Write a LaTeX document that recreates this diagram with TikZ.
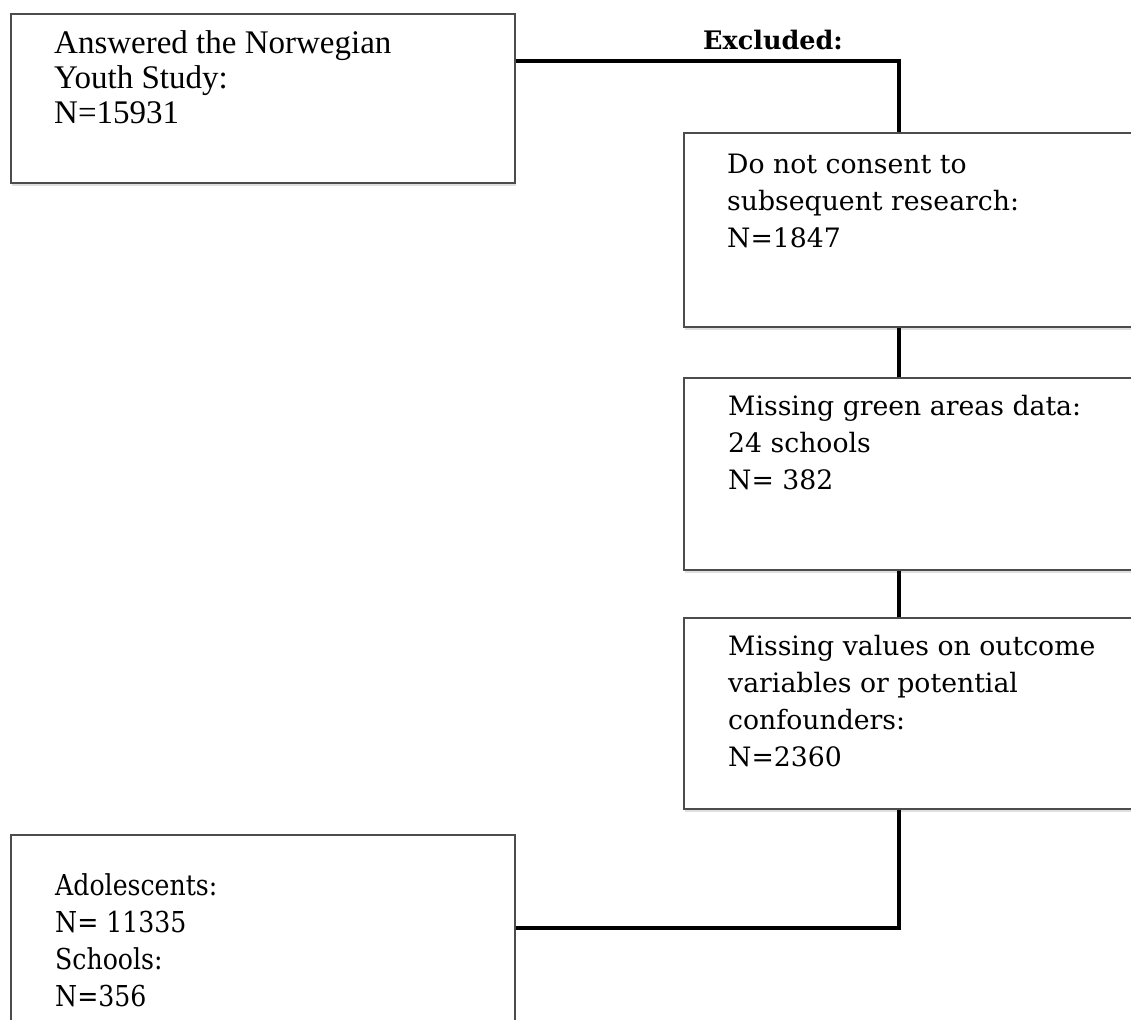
\documentclass[tikz,border=0pt]{standalone}
\usepackage{fontspec}
\setmainfont{Liberation Serif}
\newfontfamily\cambriafont{DejaVu Serif}
\newfontfamily\condfont[FakeStretch=0.875]{DejaVu Serif}
\usetikzlibrary{shadows}
\begin{document}
\begin{tikzpicture}[x=1pt,y=-1pt,
  boxstyle/.style={draw=black!70, line width=2.4pt, fill=white, inner sep=0pt,
    anchor=north west, line join=miter,
    drop shadow={shadow xshift=1pt, shadow yshift=-2.5pt, opacity=0.25}},
  conn/.style={line width=3.8pt, black, line join=miter},
  timestxt/.style={font=\fontsize{33}{35}\selectfont, align=left, inner sep=0pt, anchor=north west},
  condtxt/.style={font=\condfont\fontsize{28.8}{37}\selectfont, align=left, inner sep=0pt, anchor=north west},
  camtxt/.style={font=\cambriafont\fontsize{26.7}{37}\selectfont, align=left, inner sep=0pt, anchor=north west},
  headtxt/.style={font=\cambriafont\bfseries\fontsize{25.5}{30}\selectfont, inner sep=0pt, anchor=base west}
]
\clip (0,0) rectangle (1131,1019);
\fill[white] (0,0) rectangle (1131,1019);

% coordinates for connector bends
\coordinate (c1) at (899,61);
\coordinate (vx) at (899,0);
\coordinate (c2) at (899,928);

% boxes
\node[boxstyle, minimum width=504pt, minimum height=169pt] (b1) at (10,13) {};
\node[boxstyle, minimum width=500pt, minimum height=194pt] (b2) at (683,132) {};
\node[boxstyle, minimum width=500pt, minimum height=192pt] (b3) at (683,377) {};
\node[boxstyle, minimum width=500pt, minimum height=191pt] (b4) at (683,617) {};
\node[boxstyle, minimum width=504pt, minimum height=250pt] (b5) at (10,834) {};

% connectors
\draw[conn] (b1.east |- c1) -- (c1) -- (c1 |- b2.north);
\draw[conn] (vx |- b2.south) -- (vx |- b3.north);
\draw[conn] (vx |- b3.south) -- (vx |- b4.north);
\draw[conn] (vx |- b4.south) -- (c2) -- (c2 -| b5.east);

% texts
\node[headtxt] (ex) at (703,50) {Excluded:};
\node[timestxt] (t1) at (54,30.5) {Answered the Norwegian\\Youth Study:\\N=15931};
\node[camtxt] (t2) at (727,153.5) {Do not consent to\\subsequent research:\\N=1847};
\node[camtxt] (t3) at (728,395.5) {Missing green areas data:\\24 schools\\N= 382};
\node[camtxt] (t4) at (728,635.5) {Missing values on outcome\\variables or potential\\confounders:\\N=2360};
\node[condtxt] (t5) at (55,873) {Adolescents:\\N= 11335\\Schools:\\N=356};
\end{tikzpicture}
\end{document}
